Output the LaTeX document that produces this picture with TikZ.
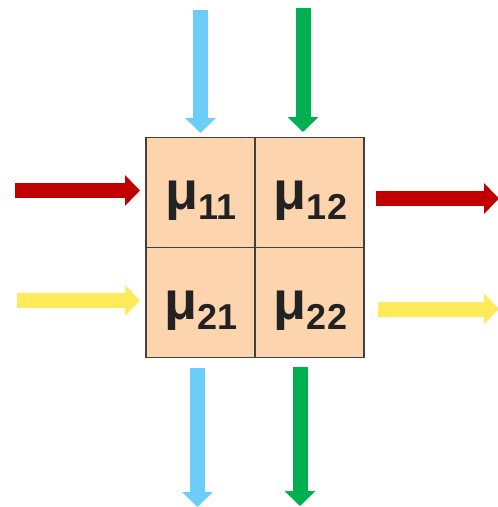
\documentclass[tikz,border=0pt]{standalone}
\usepackage{fontspec}
\setmainfont{Liberation Sans}
\usetikzlibrary{arrows.meta}
\definecolor{cellfill}{HTML}{FCD5AE}
\definecolor{gridline}{HTML}{404040}
\definecolor{inkdark}{HTML}{222222}
\definecolor{redarrow}{HTML}{C00000}
\definecolor{yellowarrow}{HTML}{FFEB5A}
\definecolor{bluearrow}{HTML}{6CCEF8}
\definecolor{greenarrow}{HTML}{00B050}
\newcommand{\mucell}[1]{\fontsize{54}{54}\selectfont\bfseries μ\raisebox{-10pt}{\fontsize{36}{36}\selectfont\bfseries #1}}
\tikzset{
  cellbox/.style={draw=gridline, line width=1.5pt, fill=cellfill, minimum width=109pt, minimum height=110pt, inner sep=0pt},
  mutext/.style={inner sep=0pt, text=inkdark},
  blockarrow/.style={line width=15pt, -{Triangle[width=30pt,length=15pt]}}
}
\begin{document}
\begin{tikzpicture}[x=1pt,y=-1pt]
\useasboundingbox (0,0) rectangle (498,507);
% cells
\node[cellbox] (c11) at (200.5,192.5) {};
\node[cellbox] (c12) at (309.5,192.5) {};
\node[cellbox] (c21) at (200.5,302.5) {};
\node[cellbox] (c22) at (309.5,302.5) {};
% labels
\node[mutext] (t11) at (201,201) {\mucell{11}};
\node[mutext] (t12) at (310.5,201) {\mucell{12}};
\node[mutext] (t21) at (201,311) {\mucell{21}};
\node[mutext] (t22) at (310.5,311) {\mucell{22}};
% arrow end points
\coordinate (rinA) at (15,190.5);  \coordinate (rinB) at (140,190.5);
\coordinate (yinA) at (17,300.5);  \coordinate (yinB) at (140,300.5);
\coordinate (routA) at (376,198.5); \coordinate (routB) at (499,198.5);
\coordinate (youtA) at (378,309); \coordinate (youtB) at (499,309);
\coordinate (btA) at (200.5,10); \coordinate (btB) at (200.5,133);
\coordinate (gtA) at (303,8); \coordinate (gtB) at (303,132);
\coordinate (bbA) at (197.5,368); \coordinate (bbB) at (197.5,507);
\coordinate (gbA) at (300,367); \coordinate (gbB) at (300,506);
% arrows
\draw[blockarrow, draw=redarrow, fill=redarrow] (rinA) -- (rinB);
\draw[blockarrow, draw=yellowarrow, fill=yellowarrow] (yinA) -- (yinB);
\draw[blockarrow, draw=redarrow, fill=redarrow] (routA) -- (routB);
\draw[blockarrow, draw=yellowarrow, fill=yellowarrow] (youtA) -- (youtB);
\draw[blockarrow, draw=bluearrow, fill=bluearrow] (btA) -- (btB);
\draw[blockarrow, draw=greenarrow, fill=greenarrow] (gtA) -- (gtB);
\draw[blockarrow, draw=bluearrow, fill=bluearrow] (bbA) -- (bbB);
\draw[blockarrow, draw=greenarrow, fill=greenarrow] (gbA) -- (gbB);
\end{tikzpicture}
\end{document}
